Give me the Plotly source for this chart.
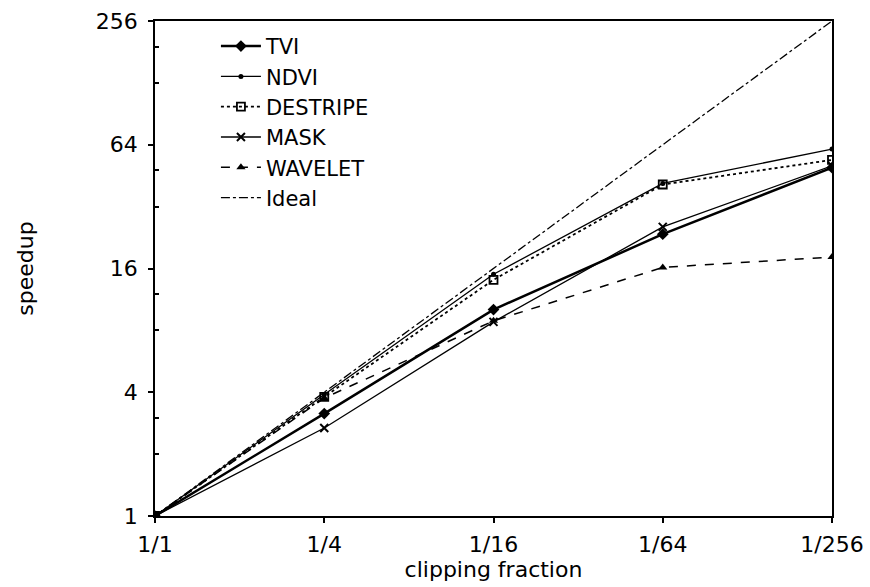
import plotly.graph_objects as go

# Data
fractions = [1, 4, 16, 64, 256]
frac_labels = ["1/1", "1/4", "1/16", "1/64", "1/256"]
tvi = [1, 3.15, 10.1, 23.5, 49.5]
ndvi = [1, 3.9, 15.0, 41.5, 61]
destripe = [1, 3.8, 14.1, 41, 54]
mask = [1, 2.68, 8.8, 25.5, 50.5]
wavelet = [1, 3.75, 8.9, 16.2, 18.2]
ideal = [1, 4, 16, 64, 256]
y_ticks = [1, 4, 16, 64, 256]
y_minor = [2, 3, 8, 12, 32, 48, 128, 192]

series = [
    ("TVI", tvi, dict(width=2.5, dash="solid"), dict(symbol="diamond", size=9)),
    ("NDVI", ndvi, dict(width=1.3, dash="solid"), dict(symbol="circle", size=5)),
    ("DESTRIPE", destripe, dict(width=1.8, dash="dot"), dict(symbol="square-open", size=8, line=dict(width=1.8, color="black"))),
    ("MASK", mask, dict(width=1.3, dash="solid"), dict(symbol="x-thin", size=8, line=dict(width=2, color="black"))),
    ("WAVELET", wavelet, dict(width=1.5, dash="dash"), dict(symbol="triangle-up", size=8)),
    ("Ideal", ideal, dict(width=1.3, dash="dashdot"), None),
]

FONT = "DejaVu Sans, Liberation Sans, Arial, sans-serif"

fig = go.Figure()
for name, vals, line, marker in series:
    line = dict(line, color="black")
    if marker is None:
        fig.add_trace(go.Scatter(x=fractions, y=vals, name=name, mode="lines", line=line))
    else:
        marker = dict(marker, color="black")
        fig.add_trace(go.Scatter(x=fractions, y=vals, name=name, mode="lines+markers",
                                 line=line, marker=marker))

fig.update_layout(
    width=870, height=587,
    margin=dict(l=155, r=38, t=21, b=71, autoexpand=False),
    paper_bgcolor="white", plot_bgcolor="white",
    font=dict(family=FONT, color="black", size=22),
    showlegend=True,
    legend=dict(x=0.09, y=0.99, xanchor="left", yanchor="top",
                bgcolor="rgba(0,0,0,0)", font=dict(size=21),
                tracegroupgap=0, itemwidth=40),
)
fig.update_xaxes(
    type="log", range=[0, 2.40824], automargin=False,
    tickvals=fractions, ticktext=frac_labels,
    showline=True, linecolor="black", linewidth=1.8, mirror=True,
    ticks="outside", ticklen=5, tickcolor="black", tickwidth=1.5,
    ticklabelstandoff=3,
    showgrid=False, zeroline=False,
    tickfont=dict(size=22),
    title=dict(text="clipping fraction", font=dict(size=22), standoff=4),
)
fig.update_yaxes(
    type="log", range=[0, 2.40824], automargin=False,
    tickvals=y_ticks, ticktext=[str(v) for v in y_ticks],
    showline=True, linecolor="black", linewidth=1.8, mirror=True,
    ticks="outside", ticklen=5, tickcolor="black", tickwidth=1.5,
    ticklabelstandoff=6,
    minor=dict(tickvals=y_minor, ticks="inside", ticklen=4, tickcolor="black"),
    showgrid=False, zeroline=False,
    tickfont=dict(size=22),
    title=dict(text="speedup", font=dict(size=22), standoff=56),
)

fig.write_html("out.html")
